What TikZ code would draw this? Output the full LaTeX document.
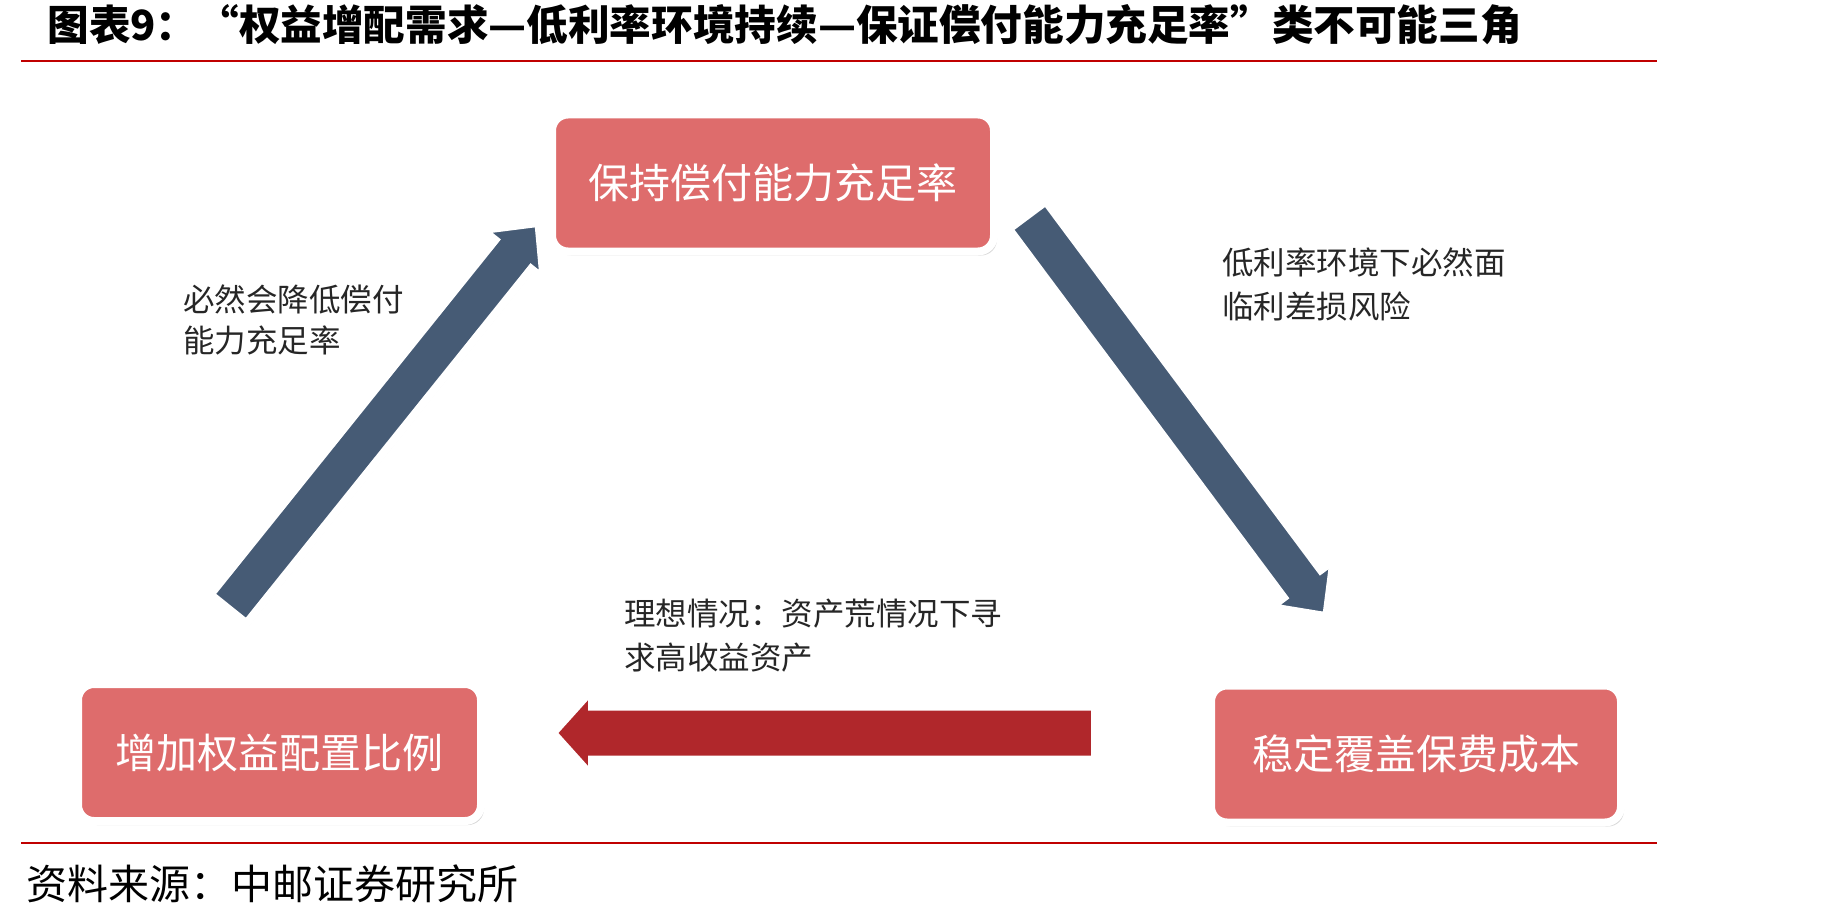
\documentclass[tikz,border=0pt]{standalone}
\usepackage{fontspec}
\usepackage{tikz}
\usetikzlibrary{arrows.meta,shapes,shapes.arrows,positioning,calc,shadows}
\newfontfamily\cjk{Noto Sans CJK SC}
\definecolor{BoxRed}{HTML}{DE6C6C}
\definecolor{ArrowBlue}{HTML}{465B75}
\definecolor{ArrowRed}{HTML}{B0272B}
\definecolor{RuleRed}{HTML}{C00000}
\definecolor{LabelGray}{HTML}{262626}

\begin{document}
\begin{tikzpicture}[x=0.5pt,y=-0.5pt,
    topicbox/.style={draw=white, line width=4pt, fill=BoxRed, rounded corners=8pt,
      minimum height=68.5pt, inner sep=0pt, text=white,
      font=\cjk\fontsize{20.5}{24}\selectfont,
      drop shadow={opacity=0.3, shadow xshift=1.5pt, shadow yshift=-2pt}},
    note/.style={anchor=west, align=left, text=LabelGray, inner sep=0pt,
      font=\cjk\fontsize{15.75}{22}\selectfont},
    bigarrow/.style={single arrow, draw=white, line width=4pt, inner xsep=0pt, anchor=tail,
      drop shadow={opacity=0.3, shadow xshift=1pt, shadow yshift=-1.5pt}}
  ]
  \useasboundingbox[fill=white] (0,0) rectangle (1836,920);

  % title and rules
  \node[anchor=west, inner sep=0pt, font=\cjk\bfseries\fontsize{20.8}{24}\selectfont] (title) at (47,25)
    {图表9：“权益增配需求—低利率环境持续—保证偿付能力充足率”类不可能三角};
  \draw[RuleRed, line width=1pt] (21,61) -- (1657,61);
  \draw[RuleRed, line width=1pt] (21,843) -- (1657,843);
  \node[anchor=west, inner sep=0pt, font=\cjk\fontsize{20.5}{24}\selectfont] (source) at (26,884)
    {资料来源：中邮证券研究所};

  % the three corners
  \node[topicbox, minimum width=221pt] (solvency) at (773,183) {保持偿付能力充足率};
  \node[topicbox, minimum width=201.5pt] (equity) at (279.5,752.5) {增加权益配置比例};
  \node[topicbox, minimum width=205pt] (cost) at (1416,754) {稳定覆盖保费成本};

  % arrow ends
  \coordinate (upTail) at (226,612);
  \coordinate (upTip) at (536,226);
  \coordinate (downTail) at (1025,212);
  \coordinate (downTip) at (1324,613);
  \coordinate (leftTail) at (1099,733);
  \coordinate (leftTip) at (557,733);

  \path let \p1=($(upTip)-(upTail)$), \n1={atan2(\y1,\x1)}, \n2={veclen(\x1,\y1)} in
    node[bigarrow, fill=ArrowBlue, rotate=\n1, minimum height=\n2, inner ysep=9.5pt,
         single arrow head extend=8pt, single arrow tip angle=88]
      (upArrow) at (upTail) {};
  \path let \p1=($(downTip)-(downTail)$), \n1={atan2(\y1,\x1)}, \n2={veclen(\x1,\y1)} in
    node[bigarrow, fill=ArrowBlue, rotate=\n1, minimum height=\n2, inner ysep=9.5pt,
         single arrow head extend=8pt, single arrow tip angle=88]
      (downArrow) at (downTail) {};
  \path let \p1=($(leftTip)-(leftTail)$), \n1={atan2(\y1,\x1)}, \n2={veclen(\x1,\y1)} in
    node[bigarrow, fill=ArrowRed, rotate=\n1, minimum height=\n2, inner ysep=11.25pt,
         single arrow head extend=8.5pt, single arrow tip angle=96]
      (leftArrow) at (leftTail) {};

  % labels
  \node[note, font=\cjk\fontsize{15.75}{20.5}\selectfont] (upNote) at (183,319.5) {必然会降低偿付\\能力充足率};
  \node[note] (downNote) at (1222,284) {低利率环境下必然面\\临利差损风险};
  \node[note] (leftNote) at (624,636) {理想情况：资产荒情况下寻\\求高收益资产};
\end{tikzpicture}
\end{document}
